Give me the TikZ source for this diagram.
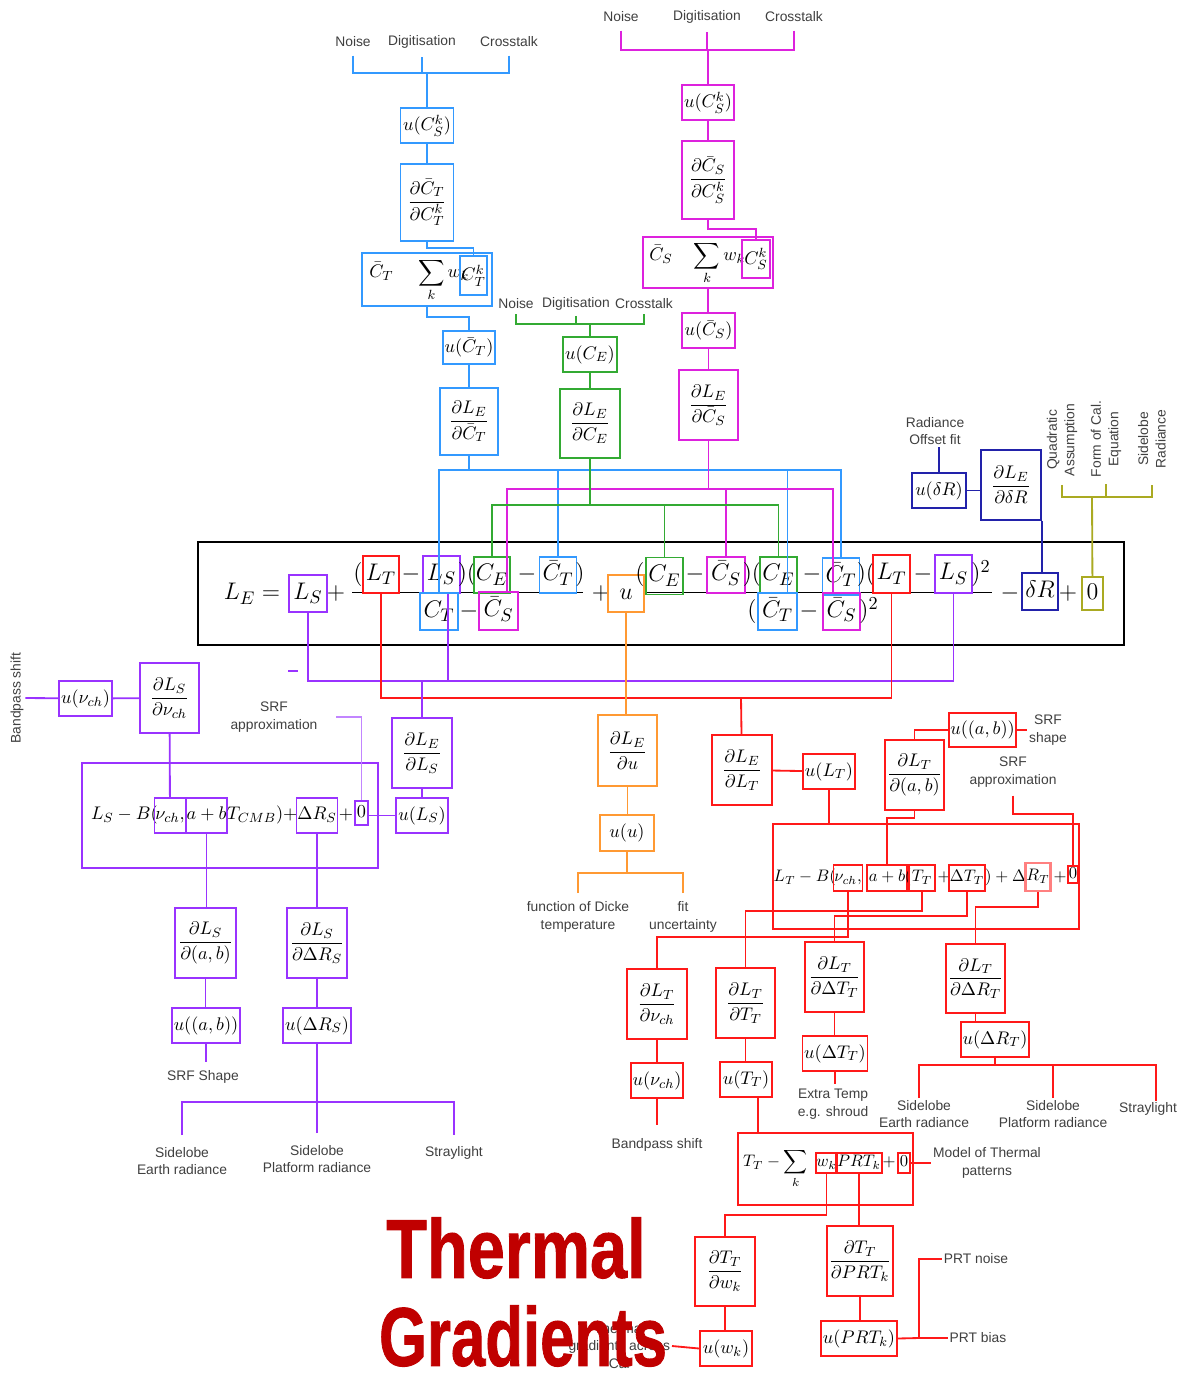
\documentclass[tikz,border=0pt]{standalone}
\usepackage{amsmath,amssymb}
\usepackage{fontspec}
\usepackage{graphicx}
\usepackage{xcolor}
\usepackage{tikz}
\usetikzlibrary{positioning, calc}

\newfontfamily\lblfont{Liberation Sans}
\newfontfamily\ttlfont[BoldFeatures={FakeBold=1.2}]{Liberation Sans}

\definecolor{cblue}{RGB}{51,153,255}
\definecolor{cmag}{RGB}{221,34,221}
\definecolor{cgreen}{RGB}{51,170,51}
\definecolor{cred}{RGB}{255,25,25}
\definecolor{cpurp}{RGB}{153,51,255}
\definecolor{corng}{RGB}{255,153,51}
\definecolor{cnavy}{RGB}{34,34,170}
\definecolor{coliv}{RGB}{170,170,34}
\definecolor{ctitle}{RGB}{192,0,0}

\begin{document}
\begin{tikzpicture}[x=0.6pt, y=-0.6pt,
    sz/.style 2 args={minimum width=#1*0.6pt, minimum height=#2*0.6pt},
    ubox/.style={draw=#1, rectangle, line width=1.1pt, inner sep=1pt, font=\fontsize{11}{13}\selectfont},
    term/.style={inner sep=1pt, text height=11pt, text depth=4pt, font=\fontsize{15}{18}\selectfont},
    tbox/.style={term, draw=#1, line width=1.1pt},
    iterm/.style={inner sep=0.5pt, text height=7.5pt, text depth=2.5pt, font=\fontsize{11}{13}\selectfont},
    ibox/.style={iterm, draw=#1, line width=1.1pt},
    riterm/.style={inner sep=0.5pt, text height=7pt, text depth=2.5pt, font=\fontsize{10}{12}\selectfont},
    ribox/.style={riterm, draw=#1, line width=1.1pt},
    lbl/.style={font=\lblfont\fontsize{8.3}{10.5}\selectfont, text=black!75, align=center, inner sep=1pt},
    ttl/.style={font=\ttlfont\bfseries\fontsize{50}{50}\selectfont, text=ctitle, inner sep=0pt},
    ln/.style={line width=1.1pt}
]
\path[fill=white] (0,0) rectangle (1190,1376);
\useasboundingbox (0,0) rectangle (1190,1376);

% Main equation
\node[draw, line width=1.2pt, sz={926}{103}] (eqbox) at (661,593.5) {};
\node[term] (ele) at (252,594) {$L_E=$};
\node[tbox=cpurp, sz={38}{37}] (els0) at (308,593.5) {$L_S$};
\node[term] (ep1) at (336,594) {$+$};
\draw[line width=0.6pt] (352,592) -- (583,592);
\node[term] (eo1) at (358,575) {$($};
\node[tbox=cred, sz={36}{37}] (elt1) at (381,574.5) {$L_T$};
\node[term] (em1) at (411,575) {$-$};
\node[tbox=cpurp, sz={37}{37}] (els1) at (441.5,574.5) {$L_S$};
\node[term] (ec1) at (467,575) {$)($};
\node[tbox=cgreen, sz={36}{36}] (ece1) at (492,575) {$C_E$};
\node[term] (em2) at (527,575) {$-$};
\node[tbox=cblue, sz={37}{36}] (ectb1) at (558,575) {$\bar C_T$};
\node[term] (ec2) at (580,575) {$)$};
\node[tbox=cblue, sz={38}{37}] (ect1) at (439,611.5) {$C_T$};
\node[term] (em3) at (469,612) {$-$};
\node[tbox=cmag, sz={39}{38}] (ecsb1) at (498.5,611) {$\bar C_S$};
\node[term] (ep2) at (601,594) {$+$};
\node[tbox=corng, sz={36}{37}] (eu) at (626,593.5) {$u$};
\draw[line width=0.6pt] (646,592) -- (992,592);
\node[term] (eo2) at (640,575) {$($};
\node[tbox=cgreen, sz={37}{37}] (ece2) at (664.5,576) {$C_E$};
\node[term] (em4) at (695,575) {$-$};
\node[tbox=cmag, sz={38}{36}] (ecsb2) at (726,575) {$\bar C_S$};
\node[term] (ec3) at (752,575) {$)($};
\node[tbox=cgreen, sz={37}{36}] (ece3) at (778.5,575) {$C_E$};
\node[term] (em5) at (812,575) {$-$};
\node[tbox=cblue, sz={37}{37}] (ectb2) at (841,576.5) {$\bar C_T$};
\node[term] (ec4) at (866,575) {$)($};
\node[tbox=cred, sz={37}{38}] (elt2) at (891.5,574) {$L_T$};
\node[term] (em6) at (923,575) {$-$};
\node[tbox=cpurp, sz={37}{38}] (els2) at (953.5,574) {$L_S$};
\node[term] (ec5) at (981,575) {$)^2$};
\node[term] (eo3) at (752,612) {$($};
\node[tbox=cblue, sz={39}{37}] (ectb3) at (777.5,611.5) {$\bar C_T$};
\node[term] (em7) at (809,612) {$-$};
\node[tbox=cmag, sz={37}{37}] (ecsb3) at (841.5,611.5) {$\bar C_S$};
\node[term] (ec6) at (869,612) {$)^2$};
\node[term] (em8) at (1010,594) {$-$};
\node[tbox=cnavy, sz={36}{37}] (edr) at (1040,591.5) {$\delta R$};
\node[term] (ep3) at (1068,594) {$+$};
\node[tbox=coliv, sz={21}{33}] (ezero) at (1092.5,593.5) {$0$};

% Blue branch: C_T
\node[lbl] (nsb) at (353,42) {Noise};
\node[lbl] (dgb) at (422,42) {Digitisation};
\node[lbl] (ctb) at (509,42) {Crosstalk};
\coordinate (jb) at (427,73);
\draw[ln, cblue] ([yshift=-4pt]nsb.south) |- (jb);
\draw[ln, cblue] ([yshift=-4pt]ctb.south) |- (jb);
\draw[ln, cblue] ([yshift=-4pt]dgb.south) -- (dgb.south |- jb);
\node[ubox=cblue, sz={53}{35}] (ucsk) at (427,125.5) {$u(C_S^k)$};
\draw[ln, cblue] (jb) -- (ucsk);
\node[ubox=cblue, sz={53}{77}] (dct) at (427,202.5) {$\dfrac{\partial\bar C_T}{\partial C_T^k}$};
\draw[ln, cblue] (ucsk) -- (dct);
\node[ubox=cblue, sz={130}{53}] (sumct) at (427,279.5) {};
\node[font=\fontsize{11}{13}\selectfont, anchor=west, inner sep=0pt] (sumcttxt) at (369,280) {$\bar C_T\hspace{13pt}\displaystyle\sum_k w_k$};
\node[ubox=cblue, sz={27}{39}] (ctk) at (473.5,275.5) {$C_T^k$};
\draw[ln, cblue] (dct.south) -- ++(0,6) -| (ctk.north);
\node[ubox=cblue, sz={52}{33}] (uct) at (469,347.5) {$u(\bar C_T)$};
\draw[ln, cblue] (sumct.south) -- ++(0,10) -| (uct.north);
\node[ubox=cblue, sz={58}{67}] (dlect) at (469,421.5) {$\dfrac{\partial L_E}{\partial\bar C_T}$};
\draw[ln, cblue] (uct) -- (dlect);
\coordinate (busb) at (469,470);
\draw[ln, cblue] (dlect) -- (busb);
\draw[ln, cblue] (busb) -| (ect1.north);
\draw[ln, cblue] (busb) -| (ectb1.north);
\draw[ln, cblue] (busb) -| ([xshift=6pt]ectb3.north);
\draw[ln, cblue] (busb) -| (ectb2.north);

% Magenta branch: C_S
\node[lbl] (nsm) at (621,17) {Noise};
\node[lbl] (dgm) at (707,17) {Digitisation};
\node[lbl] (ctm) at (794,17) {Crosstalk};
\coordinate (jm) at (708,50);
\draw[ln, cmag] ([yshift=-4pt]nsm.south) |- (jm);
\draw[ln, cmag] ([yshift=-4pt]ctm.south) |- (jm);
\draw[ln, cmag] ([yshift=-4pt]dgm.south) -- (dgm.south |- jm);
\node[ubox=cmag, sz={52}{35}] (ucskm) at (708,102.5) {$u(C_S^k)$};
\draw[ln, cmag] (jm) -- (ucskm);
\node[ubox=cmag, sz={52}{78}] (dcs) at (708,180) {$\dfrac{\partial\bar C_S}{\partial C_S^k}$};
\draw[ln, cmag] (ucskm) -- (dcs);
\node[ubox=cmag, sz={130}{51}] (sumcs) at (708,262.5) {};
\node[font=\fontsize{11}{13}\selectfont, anchor=west, inner sep=0pt] (sumcstxt) at (649,263) {$\bar C_S\hspace{11pt}\displaystyle\sum_k w_k$};
\node[ubox=cmag, sz={28}{38}] (csk) at (756,259) {$C_S^k$};
\draw[ln, cmag] (dcs.south) -- ++(0,9) -| (csk.north);
\node[ubox=cmag, sz={53}{35}] (ucs) at (708.5,330.5) {$u(\bar C_S)$};
\draw[ln, cmag] (sumcs.south) -- (sumcs.south |- ucs.north);
\node[ubox=cmag, sz={59}{70}] (dlecs) at (708.5,405) {$\dfrac{\partial L_E}{\partial\bar C_S}$};
\draw[ln, cmag] (ucs) -- (dlecs);
\coordinate (busm) at (708.5,489);
\draw[ln, cmag] (dlecs) -- (busm);
\draw[ln, cmag] (busm) -| ([xshift=5pt]ecsb1.north);
\draw[ln, cmag] (busm) -| (ecsb2.north);
\draw[ln, cmag] (busm) -| ([xshift=-5pt]ecsb3.north);

% Green branch: C_E
\node[lbl] (nsg) at (516,304) {Noise};
\node[lbl] (dgg) at (576,304) {Digitisation};
\node[lbl] (ctg) at (644,304) {Crosstalk};
\coordinate (jg) at (590,324);
\draw[ln, cgreen] ([yshift=-2pt]nsg.south) |- (jg);
\draw[ln, cgreen] ([yshift=-2pt]ctg.south) |- (jg);
\draw[ln, cgreen] ([yshift=-2pt]dgg.south) -- (dgg.south |- jg);
\node[ubox=cgreen, sz={54}{35}] (uce) at (590,354.5) {$u(C_E)$};
\draw[ln, cgreen] (jg) -- (uce);
\node[ubox=cgreen, sz={60}{69}] (dlece) at (590,423.5) {$\dfrac{\partial L_E}{\partial C_E}$};
\draw[ln, cgreen] (uce) -- (dlece);
\coordinate (busg) at (590,505);
\draw[ln, cgreen] (dlece) -- (busg);
\draw[ln, cgreen] (busg) -| (ece1.north);
\draw[ln, cgreen] (busg) -| (ece2.north);
\draw[ln, cgreen] (busg) -| (ece3.north);

% Radiance offset and olive zero term
\node[lbl] (rof) at (935,431) {Radiance\\Offset fit};
\node[ubox=cnavy, sz={54}{35}] (udr) at (939,490.5) {$u(\delta R)$};
\node[ubox=cnavy, sz={60}{70}] (dledr) at (1011,485) {$\dfrac{\partial L_E}{\partial\delta R}$};
\draw[ln, cnavy] (udr.north) -- (udr.north |- rof.south);
\draw[ln, cnavy] (udr.east) -- (udr.east -| dledr.west);
\draw[ln, cnavy] (dledr.south east) -- (dledr.south east |- edr.north);
\node[lbl, rotate=90] (qa) at (1062,440) {Quadratic\\Assumption};
\node[lbl, rotate=90] (fce) at (1106,439) {Form of Cal.\\Equation};
\node[lbl, rotate=90] (sdr) at (1152,439) {Sidelobe\\Radiance};
\coordinate (buso) at (1092,497);
\draw[ln, coliv] ([yshift=-4pt]qa.west) |- (buso);
\draw[ln, coliv] ([yshift=-9pt]sdr.west) |- (buso);
\draw[ln, coliv] ([yshift=-3pt]fce.west) -- (fce.west |- buso);
\draw[ln, coliv] (buso) -- (ezero);

% Buses below the equation
\coordinate (busp) at (422,681);
\draw[ln, cpurp] (els0.south) |- (busp);
\draw[ln, cpurp] (els2.south) |- (busp);
\draw[ln, cpurp] ([xshift=4pt]els1.south) -- ([xshift=4pt]els1.south |- busp);
\draw[ln, cpurp] (288,671) -- (298,671);
\coordinate (busr) at (741,698);
\draw[ln, cred] (elt1.south) |- (busr);
\draw[ln, cred] (elt2.south) |- (busr);

% Purple branch: L_S
\node[lbl, rotate=90] (bpsl) at (17,698) {Bandpass shift};
\node[ubox=cpurp, sz={53}{35}] (unus) at (85.5,698.5) {$u(\nu_{ch})$};
\node[ubox=cpurp, sz={59}{70}] (dlsnu) at (169.5,698) {$\dfrac{\partial L_S}{\partial\nu_{ch}}$};
\draw[ln, cpurp] (bpsl.south) -- (unus);
\draw[ln, cpurp] (unus) -- (dlsnu);
\node[draw=cpurp, line width=1.1pt, sz={296}{105}] (lsbox) at (230,815.5) {};
\node[iterm, anchor=east] (lsa) at (159,815.5) {$L_S - B($};
\node[ibox=cpurp, sz={24}{35}] (bnus) at (170,815.5) {$\nu_{ch},$};
\node[ibox=cpurp, sz={39}{35}] (babs) at (206.5,815.5) {$a+b$};
\node[iterm, anchor=west] (lsc) at (226,815.5) {$T_{CMB})+$};
\node[ibox=cpurp, sz={40}{35}] (bdrs) at (317,815.5) {$\Delta R_S$};
\node[iterm] (lsd) at (346,815.5) {$+$};
\node[ibox=cpurp, sz={13}{24}] (bzs) at (361.5,813) {$0$};
\draw[ln, cpurp] (dlsnu) -- (bnus);
\node[lbl] (srfl) at (274,717) {SRF\\approximation};
\draw[ln, cpurp!60] ([xshift=10pt]srfl.east) -| (bzs.north);
\node[ubox=cpurp, sz={60}{70}] (dlels) at (422,753) {$\dfrac{\partial L_E}{\partial L_S}$};
\node[ubox=cpurp, sz={52}{35}] (uls) at (422,815.5) {$u(L_S)$};
\draw[ln, cpurp] (busp) -- (dlels);
\draw[ln, cpurp] (dlels) -- (uls);
\draw[ln, cpurp] (uls.west) -- (uls.west -| bzs.east);
\node[ubox=cpurp, sz={61}{70}] (dlsab) at (205.5,943) {$\dfrac{\partial L_S}{\partial(a,b)}$};
\node[ubox=cpurp, sz={60}{70}] (dlsdr) at (317,943) {$\dfrac{\partial L_S}{\partial\Delta R_S}$};
\draw[ln, cpurp] (babs.south) -- (babs.south |- dlsab.north);
\draw[ln, cpurp] (bdrs) -- (dlsdr);
\node[ubox=cpurp, sz={58}{35}] (uabs) at (206,1025.5) {$u((a,b))$};
\node[ubox=cpurp, sz={60}{35}] (udrs) at (317,1025.5) {$u(\Delta R_S)$};
\draw[ln, cpurp] (dlsab.south) -- (dlsab.south |- uabs.north);
\draw[ln, cpurp] (dlsdr) -- (udrs);
\node[lbl] (srfshl) at (203,1077) {SRF Shape};
\draw[ln, cpurp] (uabs.south) -- ([yshift=4pt]uabs.south |- srfshl.north);
\node[lbl] (sler) at (182,1161) {Sidelobe\\Earth radiance};
\node[lbl] (slpr) at (317,1159) {Sidelobe\\Platform radiance};
\node[lbl] (stl) at (454,1153) {Straylight};
\coordinate (buss) at (317,1102);
\draw[ln, cpurp] (udrs) -- (buss);
\draw[ln, cpurp] ([yshift=6pt]sler.north) |- (buss);
\draw[ln, cpurp] ([yshift=6pt]stl.north) |- (buss);
\draw[ln, cpurp] ([yshift=6pt]slpr.north) -- (buss);

% Orange branch: u
\node[ubox=corng, sz={59}{71}] (dleu) at (627.5,750.5) {$\dfrac{\partial L_E}{\partial u}$};
\node[ubox=corng, sz={54}{36}] (uu) at (627,833) {$u(u)$};
\draw[ln, corng] (eu.south) -- (eu.south |- dleu.north);
\draw[ln, corng] (dleu.south) -- (dleu.south |- uu.north);
\coordinate (busu) at (627,873);
\draw[ln, corng] (uu.south) -- (busu);
\node[lbl] (dicke) at (578,917) {function of Dicke\\temperature};
\node[lbl] (fitu) at (683,917) {fit\\uncertainty};
\draw[ln, corng] ([yshift=4pt]dicke.north) |- (busu);
\draw[ln, corng] ([yshift=4pt]fitu.north) |- (busu);

% Red branch: L_T
\node[ubox=cred, sz={60}{70}] (dlelt) at (742,770) {$\dfrac{\partial L_E}{\partial L_T}$};
\node[ubox=cred, sz={52}{35}] (ult) at (829,771.5) {$u(L_T)$};
\draw[ln, cred] (busr) -- (dlelt);
\draw[ln, cred] (dlelt) -- (ult);
\node[draw=cred, line width=1.1pt, sz={306}{105}] (ltbox) at (926,876.5) {};
\draw[ln, cred] (ult.south) -- (ult.south |- ltbox.north);
\node[ubox=cred, sz={59}{70}] (dltab) at (914.5,775) {$\dfrac{\partial L_T}{\partial(a,b)}$};
\node[ubox=cred, sz={59}{34}] (uabt) at (982.5,730) {$u((a,b))$};
\draw[ln, cred] (dltab.north) |- (uabt.west);
\node[lbl] (srfsh) at (1048,730) {SRF\\shape};
\draw[ln, cred] (uabt) -- (srfsh);
\node[lbl] (srfr) at (1013,772) {SRF\\approximation};
\node[riterm, anchor=east] (lta) at (837,878) {$L_T - B($};
\node[ribox=cred, sz={26}{26}] (bnut) at (848,878) {$\nu_{ch},$};
\node[ribox=cred, sz={40}{26}] (babt) at (887,878) {$a+b$};
\node[riterm] (ltp) at (908,878) {$($};
\node[ribox=cred, sz={26}{26}] (btt) at (922,878) {$T_T$};
\node[riterm] (ltq) at (944,878) {$+$};
\node[ribox=cred, sz={28}{26}] (bdtt) at (967,878) {$\Delta T_T$};
\node[riterm, anchor=west] (ltc) at (984,878) {$)+\Delta$};
\node[ribox=cred!55, line width=1.6pt, sz={24}{28}] (bdrt) at (1038,877) {$R_T$};
\node[riterm] (ltd) at (1060,878) {$+$};
\node[ribox=cred, sz={10}{17}] (bzt) at (1073,874.5) {$0$};
\draw[ln, cred] ([yshift=-4pt]srfr.south) -- ++(0,18) -| (bzt.north);
\draw[ln, cred] (dltab.south) -- ++(0,7) -| (babt.north);
\node[ubox=cred, sz={60}{70}] (dltnu) at (657,1004) {$\dfrac{\partial L_T}{\partial\nu_{ch}}$};
\node[ubox=cred, sz={59}{70}] (dltt) at (745.5,1003) {$\dfrac{\partial L_T}{\partial T_T}$};
\node[ubox=cred, sz={59}{70}] (dltdt) at (834.5,977) {$\dfrac{\partial L_T}{\partial\Delta T_T}$};
\node[ubox=cred, sz={59}{69}] (dltdr) at (975.5,978.5) {$\dfrac{\partial L_T}{\partial\Delta R_T}$};
\draw[ln, cred] (bnut.south) -- ++(0,45) -| (dltnu.north);
\draw[ln, cred] (btt.south) -- ++(0,19) -| (dltt.north);
\draw[ln, cred] (bdtt.south) -- ++(0,24) -| (dltdt.north);
\draw[ln, cred] (bdrt.south) -- ++(0,15) -| (dltdr.north);
\node[ubox=cred, sz={52}{35}] (unut) at (657,1080.5) {$u(\nu_{ch})$};
\node[ubox=cred, sz={52}{35}] (utt) at (746,1079.5) {$u(T_T)$};
\node[ubox=cred, sz={58}{35}] (udtt) at (835,1053.5) {$u(\Delta T_T)$};
\node[ubox=cred, sz={60}{35}] (udrt) at (995,1039.5) {$u(\Delta R_T)$};
\draw[ln, cred] (dltnu) -- (unut);
\draw[ln, cred] (dltt.south) -- (dltt.south |- utt.north);
\draw[ln, cred] (dltdt.south) -- (dltdt.south |- udtt.north);
\draw[ln, cred] (dltdr.south) -- (dltdr.south |- udrt.north);
\node[lbl] (bpsr) at (657,1145) {Bandpass shift};
\draw[ln, cred] (unut.south) -- ([yshift=7pt]bpsr.north);
\node[lbl] (extt) at (833,1104) {Extra Temp\\e.g. shroud};
\draw[ln, cred] (udtt.south) -- ([yshift=2pt]udtt.south |- extt.north);
\coordinate (busrt) at (995,1065);
\draw[ln, cred] (udrt.south) -- (busrt);
\node[lbl] (sler2) at (924,1114) {Sidelobe\\Earth radiance};
\node[lbl] (slpr2) at (1053,1114) {Sidelobe\\Platform radiance};
\node[lbl] (stl2) at (1148,1109) {Straylight};
\draw[ln, cred] ([xshift=-3pt]sler2.north) |- (busrt);
\draw[ln, cred] (slpr2.north) |- (busrt);
\draw[ln, cred] ([xshift=5pt]stl2.north) |- (busrt);

% Thermal model T_T
\node[draw=cred, line width=1.1pt, sz={175}{72}] (ttbox) at (825.5,1169) {};
\draw[ln, cred] ([xshift=7pt]utt.south) -- ([xshift=7pt]utt.south |- ttbox.north);
\node[riterm, anchor=west] (tta) at (742,1163) {$T_T-\displaystyle\sum_k$};
\node[ribox=cred, sz={21}{20}] (bwk) at (826.5,1163) {$w_k$};
\node[ribox=cred, sz={44}{20}] (bprt) at (859,1163) {$PRT_k$};
\node[riterm] (tte) at (889,1163) {$+$};
\node[ribox=cred, sz={12}{20}] (bzt2) at (904,1163) {$0$};
\node[lbl] (mtp) at (987,1163) {Model of Thermal\\patterns};
\draw[ln, cred] (bzt2.east) -- (bzt2.east -| mtp.west);
\node[ubox=cred, sz={60}{69}] (dtw) at (725,1271.5) {$\dfrac{\partial T_T}{\partial w_k}$};
\node[ubox=cred, sz={60}{70}] (dtp) at (860,1261) {$\dfrac{\partial T_T}{\partial PRT_k}$};
\draw[ln, cred] (bwk.south) -- ++(0,41) -| (dtw.north);
\draw[ln, cred] (bprt.south) -- (bprt.south |- dtp.north);
\node[ubox=cred, sz={52}{35}] (uwk) at (726,1348.5) {$u(w_k)$};
\node[ubox=cred, sz={68}{35}] (uprt) at (859,1338.5) {$u(PRT_k)$};
\draw[ln, cred] (dtw.south) -- (dtw.south |- uwk.north);
\draw[ln, cred] (dtp.south) -- (dtp.south |- uprt.north);
\node[lbl] (prtn) at (976,1259) {PRT noise};
\node[lbl] (prtb) at (978,1338) {PRT bias};
\coordinate (jprt) at (919,1338);
\draw[ln, cred] (uprt.east) -- (jprt) |- (prtn.west);
\draw[ln, cred] (jprt) -- (prtb.west);
\node[lbl, anchor=east] (thg) at (672,1346) {Thermal\\gradients across\\Cal};
\draw[ln, cred] (uwk.west) -- (thg.east);

% Title
\node[ttl] (ttl1) at (516,1248) {\scalebox{0.8}[1]{Thermal}};
\node[ttl] (ttl2) at (523,1336) {\scalebox{0.74}[1]{Gradients}};

\end{tikzpicture}
\end{document}
